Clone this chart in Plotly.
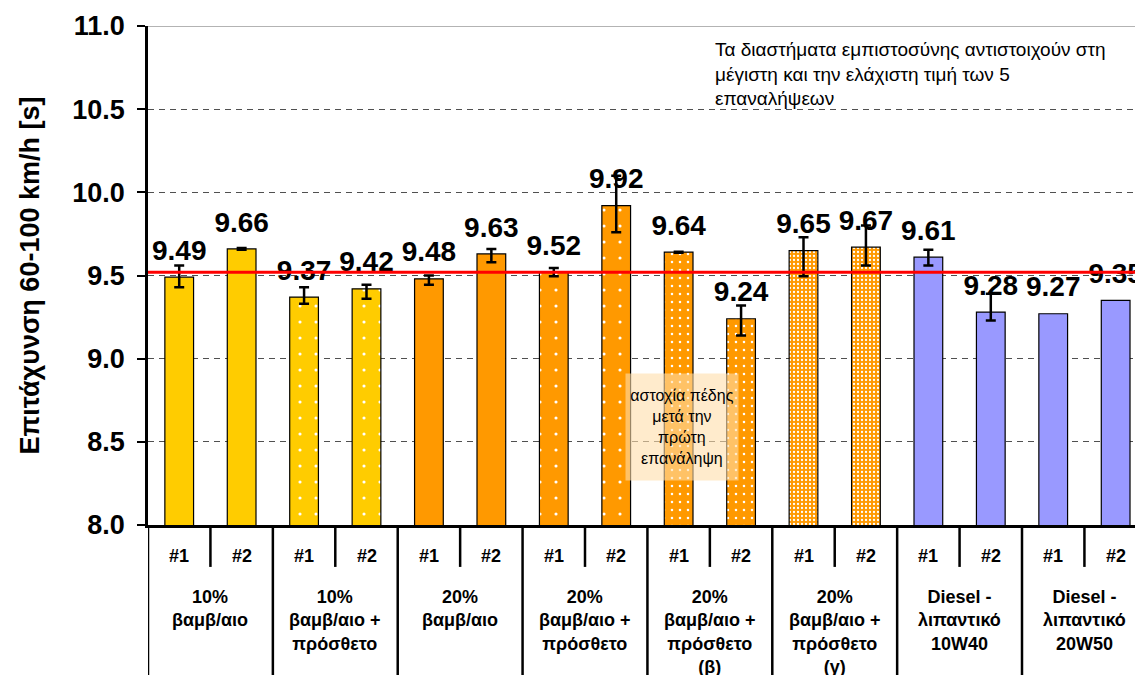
import plotly.graph_objects as go

# Acceleration 60-100 km/h, two vehicles (#1, #2) per fuel/lubricant mix
groups = [
    "10%<br>βαμβ/αιο",
    "10%<br>βαμβ/αιο +<br>πρόσθετο",
    "20%<br>βαμβ/αιο",
    "20%<br>βαμβ/αιο +<br>πρόσθετο",
    "20%<br>βαμβ/αιο +<br>πρόσθετο<br>(β)",
    "20%<br>βαμβ/αιο +<br>πρόσθετο<br>(γ)",
    "Diesel -<br>λιπαντικό<br>10W40",
    "Diesel -<br>λιπαντικό<br>20W50",
]
vehicles = ["#1", "#2"]

values = [9.49, 9.66, 9.37, 9.42, 9.48, 9.63, 9.52, 9.92,
          9.64, 9.24, 9.65, 9.67, 9.61, 9.28, 9.27, 9.35]
err_plus = [0.07, 0.005, 0.06, 0.025, 0.02, 0.03, 0.025, 0.18,
            0.003, 0.08, 0.08, 0.13, 0.045, 0.11, 0.0, 0.0]
err_minus = [0.06, 0.005, 0.04, 0.06, 0.035, 0.05, 0.025, 0.16,
             0.003, 0.10, 0.155, 0.11, 0.05, 0.05, 0.0, 0.0]

reference_level = 9.52

y_ticks = [8.0, 8.5, 9.0, 9.5, 10.0, 10.5, 11.0]

note_lines = [
    "Τα διαστήματα εμπιστοσύνης αντιστοιχούν στη",
    "μέγιστη και την ελάχιστη τιμή των 5",
    "επαναλήψεων",
]
failure_note = "αστοχία πέδης<br>μετά την<br>πρώτη<br>επανάληψη"

# ---- styling per group ----
GOLD = "#FFCC00"
ORANGE = "#FF9900"
LILAC = "#9999FF"
group_fill = [GOLD, GOLD, ORANGE, ORANGE, ORANGE, ORANGE, LILAC, LILAC]
group_shape = ["", ".", "", ".", ".", ".", "", ""]
group_psize = [8, 16, 8, 16, 8, 4, 8, 8]
group_solid = [0.1, 0.03, 0.1, 0.03, 0.08, 0.25, 0.1, 0.1]

FONT = "Arial, 'Liberation Sans', sans-serif"

fig = go.Figure()

n = len(values)
for g in range(len(groups)):
    idx = [2 * g, 2 * g + 1]
    ep = [err_plus[i] for i in idx]
    em = [err_minus[i] for i in idx]
    pattern = dict(shape=group_shape[g], size=group_psize[g],
                   solidity=group_solid[g], fgcolor="white",
                   bgcolor=group_fill[g], fillmode="replace")
    fig.add_trace(go.Bar(
        x=idx, y=[values[i] for i in idx], width=0.46,
        marker=dict(color=group_fill[g],
                    line=dict(color="black", width=1.2),
                    pattern=pattern),
        error_y=dict(type="data", symmetric=False, array=ep, arrayminus=em,
                     color="black", thickness=2.5, width=5,
                     visible=any(e > 0 for e in ep + em)),
        hoverinfo="skip", showlegend=False,
    ))

# value labels above each bar
fig.add_trace(go.Scatter(
    x=list(range(n)), y=values, mode="markers+text",
    text=[f"{v:.2f}" for v in values],
    textposition="top center",
    textfont=dict(family=FONT, size=28, color="black", weight="bold"),
    marker=dict(size=15, color="rgba(0,0,0,0)"),
    cliponaxis=False, hoverinfo="skip", showlegend=False,
))

# reference level line
fig.add_trace(go.Scatter(
    x=[-0.5, n - 0.5], y=[reference_level, reference_level], mode="lines",
    line=dict(color="#FF0000", width=3),
    hoverinfo="skip", showlegend=False,
))

shapes = []
# top border of plot area
shapes.append(dict(type="line", xref="paper", x0=0, x1=1, yref="y",
                   y0=11.0, y1=11.0, line=dict(color="#9a9a9a", width=1.5)))
# category separators under the axis
for g in range(len(groups) + 1):
    shapes.append(dict(type="line", xref="x", x0=2 * g - 0.5, x1=2 * g - 0.5,
                       yref="paper", y0=0, y1=-0.32,
                       line=dict(color="black", width=2.5)))
for g in range(len(groups)):
    shapes.append(dict(type="line", xref="x", x0=2 * g + 0.5, x1=2 * g + 0.5,
                       yref="paper", y0=0, y1=-0.084,
                       line=dict(color="black", width=2.5)))

annotations = []
for i in range(n):
    annotations.append(dict(
        x=i, xref="x", y=0, yref="paper", yanchor="middle", yshift=-31,
        text=vehicles[i % 2], showarrow=False,
        font=dict(family=FONT, size=18, color="black", weight="bold")))
for g, label in enumerate(groups):
    annotations.append(dict(
        x=2 * g + 0.5, xref="x", y=0, yref="paper", yanchor="top", yshift=-60,
        text=label, showarrow=False, align="center",
        font=dict(family=FONT, size=18, color="black", weight="bold")))

# explanatory note
for line, yy in zip(note_lines, [0.952, 0.903, 0.855]):
    annotations.append(dict(
        x=0.5724, xref="paper", y=yy, yref="paper", xanchor="left",
        yanchor="middle", text=line, showarrow=False,
        font=dict(family=FONT, size=19, color="black")))

annotations.append(dict(
    x=8.05, xref="x", y=8.59, yref="y", text=failure_note, showarrow=False,
    width=110, height=104, bgcolor="rgba(255,222,170,0.6)",
    font=dict(family=FONT, size=16, color="black")))

# y-axis title
annotations.append(dict(
    x=-0.1196, xref="paper", y=0.5, yref="paper", textangle=-90,
    xanchor="center", yanchor="middle",
    text="Επιτάχυνση 60-100 km/h [s]", showarrow=False,
    font=dict(family=FONT, size=27, color="black", weight="bold")))

fig.update_layout(
    width=1135, height=675,
    margin=dict(l=148, r=0, t=26, b=150),
    paper_bgcolor="white", plot_bgcolor="white",
    font=dict(family=FONT, color="black"),
    barmode="overlay",
    shapes=shapes, annotations=annotations,
    xaxis=dict(range=[-0.5, 15.31], showticklabels=False, ticks="",
               showgrid=False, zeroline=False, showline=True,
               linecolor="black", linewidth=2.5, fixedrange=True),
    yaxis=dict(range=[8.0, 11.0], tickvals=y_ticks, tickformat=".1f",
               ticks="outside", ticklen=8, tickwidth=1.5, tickcolor="black",
               showline=True, linecolor="black", linewidth=2.5,
               showgrid=True, gridcolor="#505050", gridwidth=1,
               griddash="6px,5px", zeroline=False, ticklabelstandoff=7,
               tickfont=dict(family=FONT, size=27, color="black",
                             weight="bold"),
               fixedrange=True),
)

fig.write_html("out.html")
